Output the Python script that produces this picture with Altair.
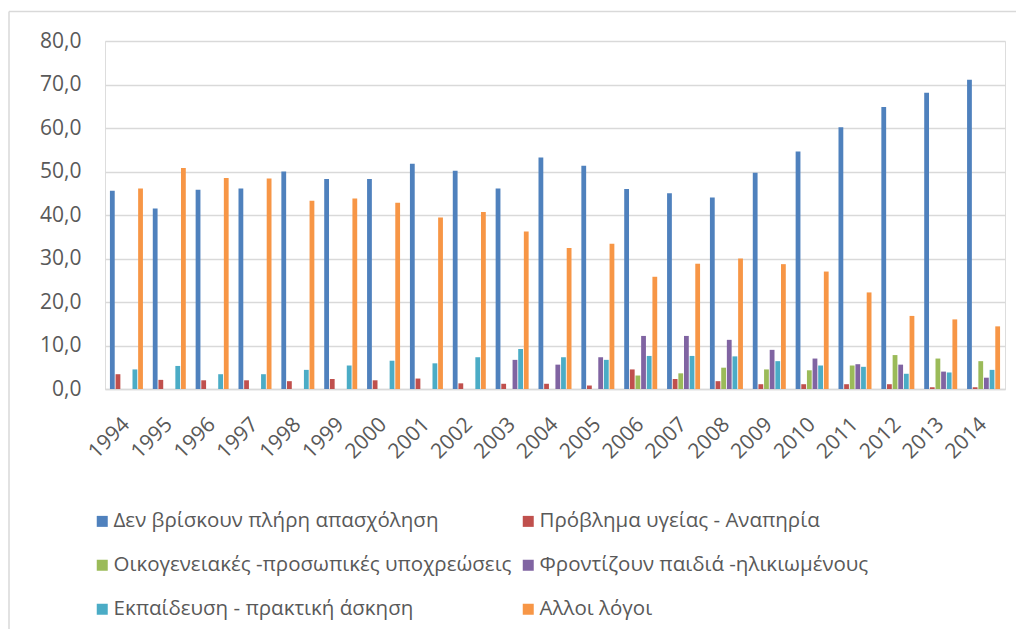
import altair as alt
import pandas as pd

years = ["1994", "1995", "1996", "1997", "1998", "1999", "2000", "2001", "2002", "2003",
         "2004", "2005", "2006", "2007", "2008", "2009", "2010", "2011", "2012", "2013", "2014"]

series_names = [
    "Δεν βρίσκουν πλήρη απασχόληση",
    "Πρόβλημα υγείας - Αναπηρία",
    "Οικογενειακές -προσωπικές υποχρεώσεις",
    "Φροντίζουν παιδιά -ηλικιωμένους",
    "Εκπαίδευση - πρακτική άσκηση",
    "Αλλοι λόγοι",
]
series_colors = ["#4F81BD", "#C0504D", "#9BBB59", "#8064A2", "#4BACC6", "#F79646"]

no_full_time = [45.6, 41.5, 45.8, 46.1, 50.0, 48.3, 48.3, 51.8, 50.2, 46.1, 53.2,
                51.3, 46.0, 45.0, 44.0, 49.7, 54.6, 60.2, 64.8, 68.1, 71.1]
health = [3.4, 2.1, 2.0, 2.0, 1.8, 2.3, 2.0, 2.4, 1.3, 1.2, 1.2,
          0.8, 4.5, 2.3, 1.8, 1.1, 1.1, 1.1, 1.1, 0.4, 0.4]
family = [None, None, None, None, None, None, None, None, None, None, None,
          None, 3.1, 3.6, 4.9, 4.5, 4.3, 5.4, 7.8, 7.0, 6.4]
care = [None, None, None, None, None, None, None, None, None, 6.7, 5.6,
        7.3, 12.2, 12.2, 11.3, 9.0, 7.0, 5.7, 5.6, 4.0, 2.6]
education = [4.5, 5.3, 3.4, 3.4, 4.4, 5.4, 6.5, 5.9, 7.3, 9.2, 7.3,
             6.7, 7.6, 7.6, 7.5, 6.4, 5.4, 5.1, 3.5, 3.8, 4.4]
other = [46.1, 50.8, 48.5, 48.4, 43.3, 43.8, 42.8, 39.4, 40.7, 36.2, 32.4,
         33.4, 25.8, 28.8, 30.0, 28.7, 27.0, 22.2, 16.8, 16.0, 14.4]

y_ticks = [0, 10, 20, 30, 40, 50, 60, 70, 80]

all_series = [no_full_time, health, family, care, education, other]
rows = []
for name, vals in zip(series_names, all_series):
    for yr, v in zip(years, vals):
        if v is not None:
            rows.append({"year": yr, "series": name, "value": v})
df = pd.DataFrame(rows)

FONT = "Open Sans"
TXT = "#595959"
GRID = "#d9d9d9"

bars = alt.Chart(df).mark_bar().encode(
    x=alt.X("year:N", sort=years,
            scale=alt.Scale(domain=years, paddingInner=0.23, paddingOuter=0.115),
            axis=alt.Axis(title=None, labelAngle=-45, labelAlign="right", labelBaseline="middle",
                          labelPadding=32, ticks=False, domain=True, domainColor=GRID,
                          domainWidth=1.5, grid=False, labelFont=FONT, labelFontSize=21,
                          labelColor=TXT)),
    xOffset=alt.XOffset("series:N", sort=series_names,
                        scale=alt.Scale(domain=series_names, paddingInner=0.15, paddingOuter=0)),
    y=alt.Y("value:Q", scale=alt.Scale(domain=[0, 80], nice=False),
            axis=alt.Axis(title=None, values=y_ticks, grid=True, gridColor=GRID, gridWidth=1.5,
                          domain=False, ticks=False, labelPadding=24, labelFont=FONT,
                          labelFontSize=21, labelColor=TXT,
                          labelExpr="replace(format(datum.value, '.1f'), '.', ',')")),
    color=alt.Color("series:N", sort=series_names,
                    scale=alt.Scale(domain=series_names, range=series_colors),
                    legend=alt.Legend(title=None, orient="none", legendX=-13, legendY=470,
                                      columns=2, direction="horizontal",
                                      symbolType="square", symbolSize=121, symbolStrokeWidth=0,
                                      labelFont=FONT, labelFontSize=20.5, labelColor=TXT,
                                      labelLimit=600, labelOffset=1, rowPadding=23,
                                      columnPadding=6, padding=0)),
)

frame_data = alt.Data(values=[{"k": 1}])
frame_left = alt.Chart(frame_data).mark_rule(color=GRID, strokeWidth=1.5).encode(
    x=alt.value(-96), y=alt.value(-29.5), y2=alt.value(620))
frame_top = alt.Chart(frame_data).mark_rule(color=GRID, strokeWidth=1.5).encode(
    x=alt.value(-96), x2=alt.value(930), y=alt.value(-29.5))

chart = alt.layer(frame_left, frame_top, bars).properties(
    width=900, height=348,
    autosize=alt.AutoSizeParams(type="none"),
    padding={"left": 97, "top": 33, "right": 11, "bottom": 240},
).configure_view(stroke=None).configure(background="white")

chart.save("out.html", embed_options={"renderer": "svg", "actions": False})
